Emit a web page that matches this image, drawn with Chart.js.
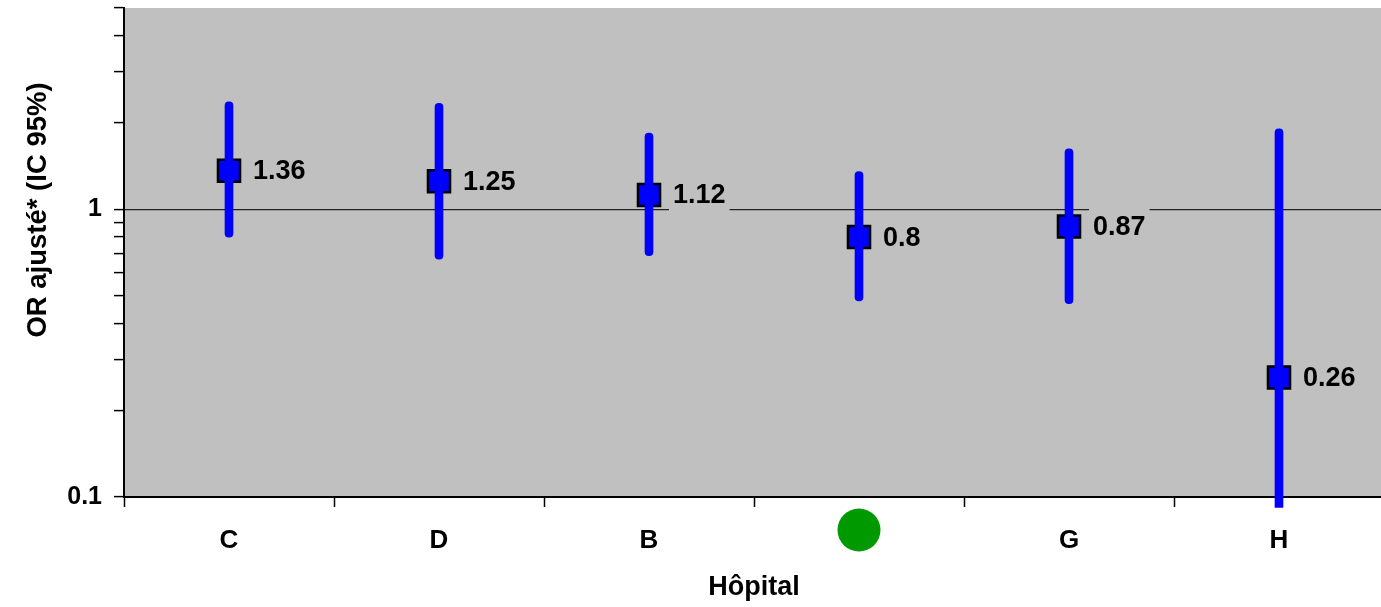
<!DOCTYPE html>
<html>
<head>
<meta charset="utf-8">
<script src="https://cdn.jsdelivr.net/npm/chart.js@4/dist/chart.umd.min.js"></script>
<style>
  html, body { margin: 0; padding: 0; background: #fff; overflow: hidden; }
  #wrap { width: 1384px; height: 607px; }
</style>
</head>
<body>
<div id="wrap"><canvas id="chart" width="1384" height="607"></canvas></div>
<script>
// Hôpitaux (le 4e est l'hôpital de référence, marqué par un point vert)
const hospitals = ["C", "D", "B", "", "G", "H"];
const orValues = [1.36, 1.25, 1.12, 0.8, 0.87, 0.26];
const ciLow = [0.8, 0.67, 0.69, 0.48, 0.47, 0.092];
const ciHigh = [2.36, 2.33, 1.84, 1.35, 1.62, 1.9];
const yTicks = [0.1, 0.2, 0.3, 0.4, 0.5, 0.6, 0.7, 0.8, 0.9, 1, 2, 3, 4, 5];
const yLabelled = [0.1, 1];
const refIndex = 3;

const FONT = "'Liberation Sans', Arial, sans-serif";
const GRAY = "#c0c0c0";
const BLUE = "#0000ff";

const plotBackground = {
  id: "plotBackground",
  beforeDraw(chart) {
    const { ctx, chartArea: a } = chart;
    ctx.save();
    ctx.fillStyle = GRAY;
    ctx.fillRect(a.left, a.top, a.right - a.left, a.bottom - a.top);
    ctx.restore();
  },
};

const valueLabels = {
  id: "valueLabels",
  afterDatasetsDraw(chart) {
    const { ctx } = chart;
    const meta = chart.getDatasetMeta(1);
    ctx.save();
    ctx.font = "bold 27px " + FONT;
    ctx.textBaseline = "middle";
    meta.data.forEach((pt, i) => {
      const text = String(orValues[i]);
      const x = pt.x + 24;
      const w = ctx.measureText(text).width;
      ctx.fillStyle = GRAY;
      ctx.fillRect(x - 4, pt.y - 18, w + 8, 36);
      ctx.fillStyle = "#000";
      ctx.fillText(text, x, pt.y + 1);
    });
    ctx.restore();
  },
};

const extras = {
  id: "extras",
  afterDraw(chart) {
    const { ctx, chartArea: a } = chart;
    const x = chart.scales.x;
    ctx.save();
    // point vert sous l'hôpital de référence
    ctx.fillStyle = "#009900";
    ctx.beginPath();
    ctx.arc(x.getPixelForValue(refIndex), 530, 21.5, 0, Math.PI * 2);
    ctx.fill();

    ctx.fillStyle = "#000";
    ctx.font = "bold 27px " + FONT;
    ctx.textAlign = "center";
    ctx.textBaseline = "middle";
    ctx.fillText("Hôpital", (a.left + a.right) / 2, 588);

    ctx.font = "bold 27.5px " + FONT;
    ctx.translate(38, 210);
    ctx.rotate(-Math.PI / 2);
    ctx.fillText("OR ajusté* (IC 95%)", 0, 0);
    ctx.restore();
  },
};

new Chart(document.getElementById("chart"), {
  type: "bar",
  data: {
    labels: hospitals,
    datasets: [
      {
        type: "bar",
        data: hospitals.map((_, i) => [ciLow[i], ciHigh[i]]),
        backgroundColor: BLUE,
        borderWidth: 0,
        borderSkipped: false,
        barThickness: 8,
        borderRadius: (c) =>
          c.dataIndex === 5 ? { topLeft: 4, topRight: 4, bottomLeft: 0, bottomRight: 0 } : 4,
        clip: false,
      },
      {
        type: "line",
        data: orValues,
        showLine: false,
        pointStyle: "rect",
        pointRadius: 15.6,
        pointBackgroundColor: BLUE,
        pointBorderColor: "#000",
        pointBorderWidth: 2.5,
      },
    ],
  },
  options: {
    responsive: false,
    animation: false,
    events: [],
    layout: { autoPadding: false, padding: { top: 8, right: 0, left: 0, bottom: 0 } },
    plugins: {
      legend: { display: false },
      tooltip: { enabled: false },
    },
    scales: {
      x: {
        grid: {
          offset: true,
          drawOnChartArea: false,
          drawTicks: true,
          tickLength: 10,
          tickColor: "#000",
          tickWidth: 1.5,
        },
        border: { display: true, color: "#000", width: 2 },
        ticks: {
          color: "#000",
          padding: 18,
          font: { family: FONT, size: 26, weight: "bold" },
        },
        afterFit(scale) {
          scale.height = 110;
          scale.paddingLeft = 0;
          scale.paddingRight = 0;
        },
      },
      y: {
        type: "logarithmic",
        min: 0.1,
        max: 5,
        afterBuildTicks(scale) {
          scale.ticks = yTicks.map((v) => ({ value: v }));
        },
        grid: {
          color: (c) => (c.tick && c.tick.value === 1 ? "#222" : "rgba(0,0,0,0)"),
          lineWidth: 1.2,
          tickLength: 10,
          tickColor: "#000",
          tickWidth: 1.5,
        },
        border: { display: true, color: "#000", width: 2 },
        ticks: {
          autoSkip: false,
          color: "#000",
          padding: 12,
          font: { family: FONT, size: 25, weight: "bold" },
          callback: (v) => (yLabelled.includes(v) ? String(v) : ""),
        },
        afterFit(scale) {
          scale.width = 124;
          scale.paddingTop = 0;
          scale.paddingBottom = 0;
        },
      },
    },
  },
  plugins: [plotBackground, valueLabels, extras],
});
</script>
</body>
</html>
